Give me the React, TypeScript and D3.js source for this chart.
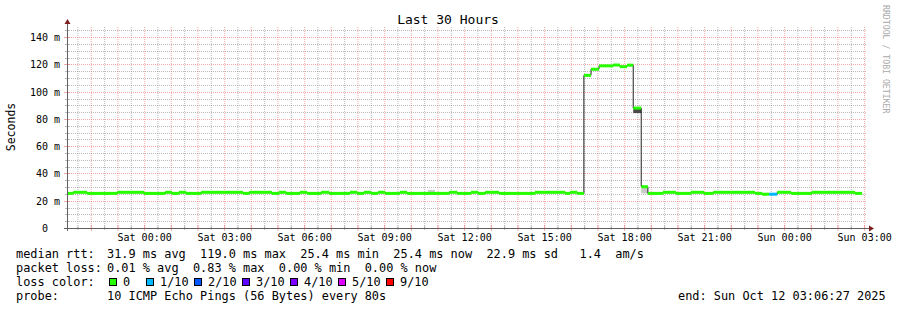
import React from "react";
import * as d3 from "d3";

const TITLE = "Last 30 Hours";
const Y_TITLE = "Seconds";
const WATERMARK = "RRDTOOL / TOBI OETIKER";
const START_UTC = Date.UTC(2025, 9, 10, 21, 6, 27);
const SPAN_HOURS = 30;
const Y_MAX = 147.5;

// median rtt segments (minutes since window start, ms)
const segStartMin = [
  0, 14, 45, 113, 173, 221, 236, 252, 268, 302, 396, 410, 461, 477, 493, 524, 540, 572, 590, 637,
  653, 668, 684, 700, 716, 749, 765, 860, 878, 909, 925, 941, 972, 1053, 1121, 1132, 1148, 1163,
  1179, 1197, 1229, 1244, 1260, 1274, 1292, 1307, 1341, 1370, 1404, 1433, 1454, 1548, 1564, 1580,
  1598, 1629, 1676, 1773,
];
const medianMs = [
  25.4, 26.2, 25.4, 26.2, 25.4, 26.2, 25.4, 26.2, 25.4, 26.2, 25.4, 26.2, 25.4, 26.2, 25.4, 26.2,
  25.4, 26.2, 25.4, 26.2, 25.4, 26.2, 25.4, 26.2, 25.4, 26.2, 25.4, 26.2, 25.4, 26.2, 25.4, 26.2,
  25.4, 26.2, 25.4, 26.2, 25.4, 112.0, 116.5, 119.0, 119.6, 118.4, 119.5, 88.0, 30.3, 25.4, 26.2,
  25.4, 26.2, 25.4, 26.2, 25.4, 24.8, 24.8, 26.2, 25.4, 26.2, 25.4,
];
const lossTenths = [
  0, 0, 0, 0, 0, 0, 0, 0, 0, 0, 0, 0, 0, 0, 0, 0, 0, 0, 0, 0, 0, 0, 0, 0, 0, 0, 0, 0, 0, 0, 0, 0,
  0, 0, 0, 0, 0, 0, 0, 0, 0, 0, 0, 0, 0, 0, 0, 0, 0, 0, 0, 0, 0, 1, 0, 0, 0, 0,
];
const dataEndMin = 1789;

// smoke (ping spread) patches
const smokeStartMin = [812, 1274, 1292];
const smokeEndMin = [828, 1292, 1307];
const smokeLowMs = [25.4, 84.3, 25.4];
const smokeHighMs = [28.0, 88.0, 30.3];
const smokeShade = ["#cccccc", "#4a4a4a", "#c8c8c8"];

const yTickValues = [0, 20, 40, 60, 80, 100, 120, 140];

const lossLabels = ["0", "1/10", "2/10", "3/10", "4/10", "5/10", "9/10"];
const lossLevels = [0, 1, 2, 3, 4, 5, 9];
const lossColors = ["#26ff00", "#00b8ff", "#0059ff", "#5e00ff", "#7e00ff", "#dd00ff", "#ff0000"];

const rttLabel = "median rtt:";
const rttText = "31.9 ms avg  119.0 ms max  25.4 ms min  25.4 ms now  22.9 ms sd   1.4  am/s";
const lossLabel = "packet loss:";
const lossText = "0.01 % avg  0.83 % max  0.00 % min  0.00 % now";
const colorLabel = "loss color:";
const probeLabel = "probe:";
const probeText = "10 ICMP Echo Pings (56 Bytes) every 80s";
const endText = "end: Sun Oct 12 03:06:27 2025";

const W = 897;
const H = 310;
const X0 = 67;
const X1 = 867;
const Y0 = 228;
const Y1 = 27;
const MONO = "'DejaVu Sans Mono', monospace";
const GRID = "rgba(140,140,140,0.6)";
const MGRID = "rgba(240,110,110,0.6)";
const BAND = 1.1;

export default function App() {
  const t0 = new Date(START_UTC);
  const t1 = new Date(START_UTC + SPAN_HOURS * 3600e3);
  const x = d3.scaleUtc().domain([t0, t1]).range([X0, X1]);
  const y = d3.scaleLinear().domain([0, Y_MAX]).range([Y0, Y1]);
  const tm = (m: number) => new Date(START_UTC + m * 60e3);

  const hours = d3.utcHour.range(t0, t1);
  const halfHours = d3.utcMinute.every(30)!.range(t0, t1).filter((d) => d.getUTCMinutes() === 30);
  const labelHours = d3.utcHour.every(3)!.range(t0, new Date(+t1 + 1));
  const fmt = d3.utcFormat("%a %H:%M");

  const minorY = d3.range(5, Y_MAX, 5).filter((v) => v % 20 !== 0);
  const majorY = d3.range(20, Y_MAX, 20);

  const segs = segStartMin.map((s, i) => ({
    s,
    e: i + 1 < segStartMin.length ? segStartMin[i + 1] : dataEndMin,
    v: medianMs[i],
    l: lossTenths[i],
  }));
  const linePts: [number, number][] = segs.map((d) => [x(tm(d.s)), y(d.v)]);
  linePts.push([x(tm(dataEndMin)), y(segs[segs.length - 1].v)]);
  const line = d3.line().curve(d3.curveStepAfter)(linePts) || "";

  const colorFor = (l: number) => lossColors[Math.max(0, lossLevels.indexOf(l))];

  const legendItemX = [109, 146, 194, 242, 290, 338, 386];

  return (
    <svg
      width={W}
      height={H}
      style={{ position: "absolute", left: 0, top: 0, background: "#fff" }}
      fontFamily={MONO}
    >
      <rect width={W} height={H} fill="#fff" />
      {/* minor grid */}
      {halfHours.map((d, i) => (
        <line key={"hv" + i} x1={x(d) + 0.5} x2={x(d) + 0.5} y1={Y1} y2={Y0} stroke={GRID} strokeDasharray="1,1" />
      ))}
      {minorY.map((v, i) => (
        <line key={"hh" + i} x1={X0} x2={X1} y1={Math.round(y(v)) + 0.5} y2={Math.round(y(v)) + 0.5} stroke={GRID} strokeDasharray="1,1" />
      ))}
      {/* major grid */}
      {hours.map((d, i) => (
        <line key={"mv" + i} x1={x(d) + 0.5} x2={x(d) + 0.5} y1={Y1} y2={Y0} stroke={MGRID} strokeDasharray="1,1" />
      ))}
      {majorY.map((v, i) => (
        <line key={"mh" + i} x1={X0} x2={X1} y1={Math.round(y(v)) + 0.5} y2={Math.round(y(v)) + 0.5} stroke={MGRID} strokeDasharray="1,1" />
      ))}
      {/* ticks */}
      {minorY.map((v, i) => (
        <line key={"ty" + i} x1={X0 - 2} x2={X0 + 2} y1={Math.round(y(v)) + 0.5} y2={Math.round(y(v)) + 0.5} stroke={GRID} />
      ))}
      {majorY.map((v, i) => (
        <line key={"tY" + i} x1={X0 - 3} x2={X0 + 3} y1={Math.round(y(v)) + 0.5} y2={Math.round(y(v)) + 0.5} stroke={MGRID} />
      ))}
      {halfHours.map((d, i) => (
        <line key={"tx" + i} x1={x(d) + 0.5} x2={x(d) + 0.5} y1={Y0 - 2} y2={Y0 + 2} stroke={GRID} />
      ))}
      {hours.map((d, i) => (
        <line key={"tX" + i} x1={x(d) + 0.5} x2={x(d) + 0.5} y1={Y0 - 3} y2={Y0 + 3} stroke={MGRID} />
      ))}

      {/* smoke */}
      {smokeStartMin.map((s, i) => (
        <rect
          key={"sm" + i}
          x={x(tm(s))}
          width={x(tm(smokeEndMin[i])) - x(tm(s))}
          y={y(smokeHighMs[i])}
          height={y(smokeLowMs[i]) - y(smokeHighMs[i])}
          fill={smokeShade[i]}
        />
      ))}
      {/* median line */}
      <path d={line} fill="none" stroke="#202020" strokeWidth={1} />
      {/* loss-colored median band */}
      {segs.map((d, i) => (
        <rect
          key={"bd" + i}
          x={x(tm(d.s))}
          width={x(tm(d.e)) - x(tm(d.s))}
          y={y(d.v + BAND)}
          height={y(d.v - BAND) - y(d.v + BAND)}
          fill={colorFor(d.l)}
        />
      ))}

      {/* axes */}
      <line x1={X0 + 0.5} x2={X0 + 0.5} y1={Y0 + 3} y2={Y1 - 4} stroke="#606060" />
      <line x1={X0 - 3} x2={X1 + 2} y1={Y0 + 0.5} y2={Y0 + 0.5} stroke="#606060" />
      <path d={`M${X0 - 2.5},${Y1 - 3} L${X0 + 3.5},${Y1 - 3} L${X0 + 0.5},${Y1 - 8} Z`} fill="#7f1f1f" />
      <path d={`M${X1 + 2},${Y0 - 2.5} L${X1 + 2},${Y0 + 3.5} L${X1 + 7},${Y0 + 0.5} Z`} fill="#7f1f1f" />

      {/* y labels */}
      {yTickValues.map((v, i) => (
        <text key={"yl" + i} x={v === 0 ? 48 : 60} y={Math.round(y(v)) + 4} textAnchor="end" fontSize={10} fill="#000">
          {v === 0 ? "0" : `${v} m`}
        </text>
      ))}
      {/* x labels */}
      {labelHours.map((d, i) => (
        <text key={"xl" + i} x={x(d) + 0.5} y={241} textAnchor="middle" fontSize={10} fill="#000">
          {fmt(d)}
        </text>
      ))}

      {/* titles */}
      <text x={448} y={24} textAnchor="middle" fontSize={13} fill="#000">
        {TITLE}
      </text>
      <text transform={`translate(15,127) rotate(-90)`} textAnchor="middle" fontSize={11.5} fill="#000">
        {Y_TITLE}
      </text>
      <text transform={`translate(883,5) rotate(90)`} textAnchor="start" fontSize={8.2} fill="#aaaaaa">
        {WATERMARK}
      </text>

      {/* legend */}
      <g fontSize={11.9} fill="#000" style={{ whiteSpace: "pre" }}>
        <text x={16} y={258}>{rttLabel}</text>
        <text x={107} y={258} xmlSpace="preserve">{rttText}</text>
        <text x={16} y={272}>{lossLabel}</text>
        <text x={107} y={272} xmlSpace="preserve">{lossText}</text>
        <text x={16} y={286}>{colorLabel}</text>
        {lossLabels.map((lab, i) => (
          <g key={"lg" + i}>
            <rect x={legendItemX[i] + 0.5} y={278.5} width={7} height={7} fill={lossColors[i]} stroke="#000" />
            <text x={legendItemX[i] + 14} y={286}>{lab}</text>
          </g>
        ))}
        <text x={16} y={300}>{probeLabel}</text>
        <text x={107} y={300} xmlSpace="preserve">{probeText}</text>
        <text x={678} y={300}>{endText}</text>
      </g>
    </svg>
  );
}
